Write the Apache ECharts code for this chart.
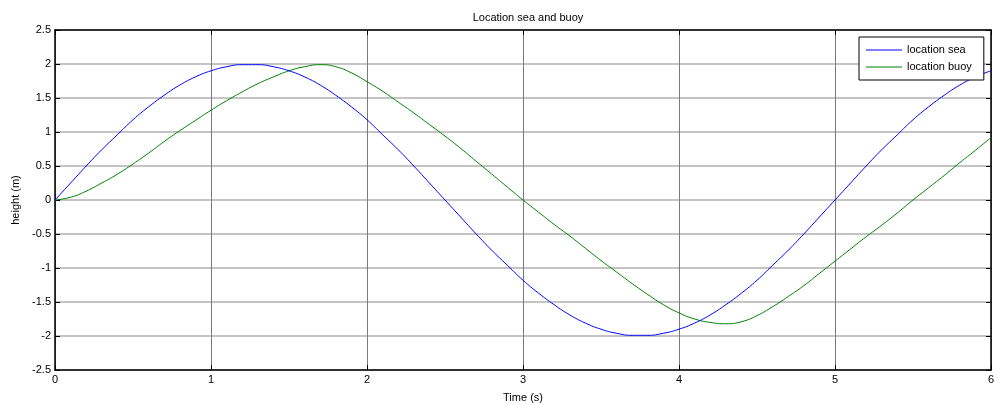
<!DOCTYPE html>
<html>
<head>
<meta charset="utf-8">
<script src="https://cdn.jsdelivr.net/npm/echarts@6/dist/echarts.min.js"></script>
<style>
  html, body { margin: 0; padding: 0; background: #fff; }
  #chart { width: 997px; height: 405px; }
</style>
</head>
<body>
<div id="chart"></div>
<script>
// Sample times (s)
const time = [
  0.0, 0.1, 0.2, 0.3, 0.4, 0.5, 0.6, 0.7, 0.8, 0.9,
  1.0, 1.1, 1.2, 1.3, 1.4, 1.5, 1.6, 1.7, 1.8, 1.9,
  2.0, 2.1, 2.2, 2.3, 2.4, 2.5, 2.6, 2.7, 2.8, 2.9,
  3.0, 3.1, 3.2, 3.3, 3.4, 3.5, 3.6, 3.7, 3.8, 3.9,
  4.0, 4.1, 4.2, 4.3, 4.4, 4.5, 4.6, 4.7, 4.8, 4.9,
  5.0, 5.1, 5.2, 5.3, 5.4, 5.5, 5.6, 5.7, 5.8, 5.9,
  6.0
];

// Sea surface height (m)
const locationSea = [
  0.00, 0.25, 0.50, 0.74, 0.96, 1.18, 1.37, 1.54, 1.69, 1.81,
  1.90, 1.96, 1.99, 1.99, 1.96, 1.90, 1.81, 1.69, 1.54, 1.37,
  1.18, 0.96, 0.74, 0.50, 0.25, 0.00, -0.25, -0.50, -0.74, -0.96,
  -1.18, -1.37, -1.54, -1.69, -1.81, -1.90, -1.96, -1.99, -1.99, -1.96,
  -1.90, -1.81, -1.69, -1.54, -1.37, -1.18, -0.96, -0.74, -0.50, -0.25,
  0.00, 0.25, 0.50, 0.74, 0.96, 1.18, 1.37, 1.54, 1.69, 1.81,
  1.90
];

// Buoy height (m)
const locationBuoy = [
  0.00, 0.04, 0.13, 0.25, 0.38, 0.53, 0.69, 0.86, 1.02, 1.17,
  1.32, 1.46, 1.59, 1.71, 1.81, 1.90, 1.96, 1.99, 1.96, 1.87,
  1.74, 1.60, 1.44, 1.28, 1.11, 0.94, 0.76, 0.57, 0.38, 0.19,
  0.00, -0.18, -0.36, -0.53, -0.71, -0.89, -1.06, -1.23, -1.39, -1.54,
  -1.66, -1.75, -1.80, -1.82, -1.79, -1.70, -1.57, -1.42, -1.26, -1.08,
  -0.90, -0.72, -0.54, -0.37, -0.19, 0.00, 0.18, 0.36, 0.55, 0.73,
  0.92
];

const seriesNames = ['location sea', 'location buoy'];
const yTicks = { min: -2.5, max: 2.5, step: 0.5 };
const xTicks = { min: 0, max: 6, step: 1 };

const FONT = 'Liberation Sans, Arial, sans-serif';

const chart = echarts.init(document.getElementById('chart'), null, { renderer: 'canvas' });

const pairs = (ys) => time.map((t, i) => [t, ys[i]]);

const tickLabel = { color: '#000', fontFamily: FONT, fontSize: 11 };
const boxLine = { show: true, onZero: false, lineStyle: { color: '#000', width: 1.5 } };
const innerTick = { show: true, inside: true, length: 5, lineStyle: { color: '#000', width: 1 } };

chart.setOption({
  animation: false,
  backgroundColor: '#fff',
  title: {
    text: 'Location sea and buoy',
    left: 523,
    top: 7,
    textAlign: 'center',
    textStyle: { color: '#000', fontFamily: FONT, fontSize: 11, fontWeight: 'normal' }
  },
  grid: {
    left: 55, right: 6, top: 30, bottom: 35,
    containLabel: false,
    outerBoundsMode: 'none'
  },
  legend: {
    data: seriesNames.map(n => ({ name: n, icon: 'rect' })),
    orient: 'vertical',
    left: 859,
    top: 37,
    padding: [7, 12, 7, 7],
    itemGap: 5,
    itemWidth: 36,
    itemHeight: 1,
    borderColor: '#000',
    borderWidth: 1,
    backgroundColor: '#fff',
    textStyle: { color: '#000', fontFamily: FONT, fontSize: 11, lineHeight: 12 }
  },
  xAxis: [
    {
      type: 'value',
      min: xTicks.min, max: xTicks.max, interval: xTicks.step,
      position: 'bottom',
      name: 'Time (s)',
      nameLocation: 'middle',
      nameGap: 22,
      nameTextStyle: tickLabel,
      axisLine: boxLine,
      axisTick: innerTick,
      axisLabel: Object.assign({ margin: 4 }, tickLabel),
      splitLine: { show: true, lineStyle: { color: '#7a7a7a', width: 1 } }
    },
    {
      type: 'value',
      min: xTicks.min, max: xTicks.max, interval: xTicks.step,
      position: 'top',
      axisLine: boxLine,
      axisTick: innerTick,
      axisLabel: { show: false },
      splitLine: { show: false }
    }
  ],
  yAxis: [
    {
      type: 'value',
      min: yTicks.min, max: yTicks.max, interval: yTicks.step,
      position: 'left',
      name: 'height (m)',
      nameLocation: 'middle',
      nameGap: 30,
      nameRotate: 90,
      nameTextStyle: tickLabel,
      axisLine: boxLine,
      axisTick: innerTick,
      axisLabel: Object.assign({ margin: 4 }, tickLabel),
      splitLine: { show: true, lineStyle: { color: '#c4c4c4', width: 2 } }
    },
    {
      type: 'value',
      min: yTicks.min, max: yTicks.max, interval: yTicks.step,
      position: 'right',
      axisLine: boxLine,
      axisTick: innerTick,
      axisLabel: { show: false },
      splitLine: { show: false }
    }
  ],
  series: [
    {
      name: seriesNames[0],
      type: 'line',
      xAxisIndex: 0, yAxisIndex: 0,
      data: pairs(locationSea),
      smooth: true,
      symbol: 'none',
      lineStyle: { color: '#0000ff', width: 1 },
      itemStyle: { color: '#0000ff' },
      z: 3
    },
    {
      name: seriesNames[1],
      type: 'line',
      xAxisIndex: 0, yAxisIndex: 0,
      data: pairs(locationBuoy),
      smooth: true,
      symbol: 'none',
      lineStyle: { color: '#008000', width: 1 },
      itemStyle: { color: '#008000' },
      z: 2
    }
  ]
});
</script>
</body>
</html>
